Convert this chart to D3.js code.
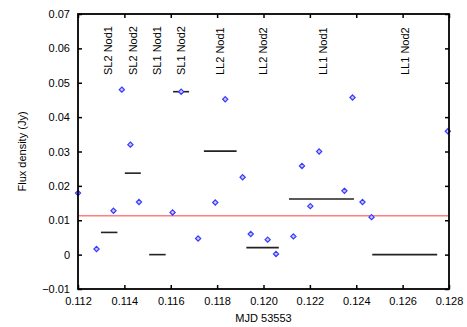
<!DOCTYPE html>
<meta charset="utf-8">
<style>
  body { margin: 0; background: #fff; }
  text { font-family: "Liberation Sans", Arial, sans-serif; }
</style>
<svg width="467" height="327"></svg>
<script src="https://d3js.org/d3.v7.min.js"></script>
<script>

var svg = d3.select("svg");

var margin = {left: 78, right: 18, top: 14, bottom: 38};
var width = 467 - margin.left - margin.right,
    height = 327 - margin.top - margin.bottom;

// photometry points (MJD - 53553, flux in Jy)
var mjd  = [0.1120, 0.1128, 0.11353, 0.11389, 0.11426, 0.11463, 0.11608, 0.11645,
            0.11718, 0.11792, 0.11835, 0.1191, 0.11945, 0.12018, 0.12054, 0.12129,
            0.12166, 0.12202, 0.1224, 0.12349, 0.12384, 0.12427, 0.12466, 0.12795];
var flux = [0.0179, 0.00165, 0.01275, 0.048, 0.032, 0.0153, 0.01227, 0.0474,
            0.0047, 0.01517, 0.0452, 0.0225, 0.006, 0.00435, 0.0002, 0.0053,
            0.0258, 0.0141, 0.030, 0.01855, 0.0457, 0.0153, 0.0109, 0.0359];

// per-module averages
var segLabels = ["SL2 Nod1", "SL2 Nod2", "SL1 Nod1", "SL1 Nod2",
                 "LL2 Nod1", "LL2 Nod2", "LL1 Nod1", "LL1 Nod2"];
var segStart  = [0.11299, 0.11402, 0.11507, 0.1161, 0.11743, 0.11926, 0.1211, 0.12469];
var segEnd    = [0.1137, 0.11471, 0.11578, 0.11679, 0.11884, 0.12066, 0.1239, 0.12749];
var segFlux   = [0.00646, 0.0237, 0.0, 0.0474, 0.0301, 0.00203, 0.0162, 0.0];
var labelPos  = [0.1133, 0.11438, 0.11541, 0.11644, 0.11812, 0.11999, 0.12256, 0.12611];

var meanFlux = 0.0113;

var xTicks = [0.112, 0.114, 0.116, 0.118, 0.120, 0.122, 0.124, 0.126, 0.128];
var yTicks = [-0.01, 0, 0.01, 0.02, 0.03, 0.04, 0.05, 0.06, 0.07];

var x = d3.scaleLinear().domain([0.112, 0.128]).range([0, width]);
var y = d3.scaleLinear().domain([-0.01, 0.07]).range([height, 0]);

var g = svg.append("g")
    .attr("transform", "translate(" + margin.left + "," + margin.top + ")");

// axes with inward ticks on all four sides
var tickLen = 4;
g.append("g")
    .attr("transform", "translate(0," + height + ")")
    .call(d3.axisBottom(x).tickValues(xTicks).tickSizeInner(-tickLen).tickSizeOuter(0)
        .tickPadding(8).tickFormat(d3.format(".3f")));
g.append("g")
    .call(d3.axisTop(x).tickValues(xTicks).tickSizeInner(-tickLen).tickSizeOuter(0)
        .tickFormat(""));
g.append("g")
    .call(d3.axisLeft(y).tickValues(yTicks).tickSizeInner(-tickLen).tickSizeOuter(0)
        .tickPadding(8).tickFormat(function(d) { return d === 0 ? "0" : d3.format(".2f")(d); }));
g.append("g")
    .attr("transform", "translate(" + width + ",0)")
    .call(d3.axisRight(y).tickValues(yTicks).tickSizeInner(-tickLen).tickSizeOuter(0)
        .tickFormat(""));

g.selectAll(".domain").remove();
g.selectAll(".tick line").attr("stroke", "#000").attr("stroke-width", 1.5);
g.selectAll(".tick text").attr("font-size", 11).attr("fill", "#000")
    .style("font-family", "Liberation Sans, Arial, sans-serif");

// mean flux line
g.append("line")
    .attr("x1", 0).attr("x2", width)
    .attr("y1", y(meanFlux)).attr("y2", y(meanFlux))
    .attr("stroke", "#ff8080")
    .attr("stroke-width", 1.5);

// module averages
g.selectAll(".seg")
    .data(segStart)
    .enter().append("line")
    .attr("class", "seg")
    .attr("x1", function(d) { return x(d); })
    .attr("x2", function(d, i) { return x(segEnd[i]); })
    .attr("y1", function(d, i) { return y(segFlux[i]); })
    .attr("y2", function(d, i) { return y(segFlux[i]); })
    .attr("stroke", "#222")
    .attr("stroke-width", 1.6);

// data points as small diamonds
var diamond = "M0,-2.6L2.6,0L0,2.6L-2.6,0Z";
g.selectAll(".pt")
    .data(mjd)
    .enter().append("path")
    .attr("class", "pt")
    .attr("d", diamond)
    .attr("transform", function(d, i) { return "translate(" + x(d) + "," + y(flux[i]) + ")"; })
    .attr("fill", "#c8c8ff")
    .attr("stroke", "#3a3aff")
    .attr("stroke-width", 1.2);

// module labels
g.selectAll(".lab")
    .data(segLabels)
    .enter().append("text")
    .attr("class", "lab")
    .attr("transform", function(d, i) {
        return "translate(" + (x(labelPos[i]) + 4) + "," + 61 + ") rotate(-90)";
    })
    .attr("font-size", 11)
    .attr("fill", "#000")
    .text(function(d) { return d; });

// frame
g.append("rect")
    .attr("width", width).attr("height", height)
    .attr("fill", "none")
    .attr("stroke", "#000")
    .attr("stroke-width", 1.8);

// axis titles
svg.append("text")
    .attr("x", margin.left + width / 2)
    .attr("y", 322)
    .attr("text-anchor", "middle")
    .attr("font-size", 11)
    .text("MJD 53553");

svg.append("text")
    .attr("transform", "translate(26," + (margin.top + height / 2) + ") rotate(-90)")
    .attr("text-anchor", "middle")
    .attr("font-size", 11)
    .text("Flux density (Jy)");

</script>
